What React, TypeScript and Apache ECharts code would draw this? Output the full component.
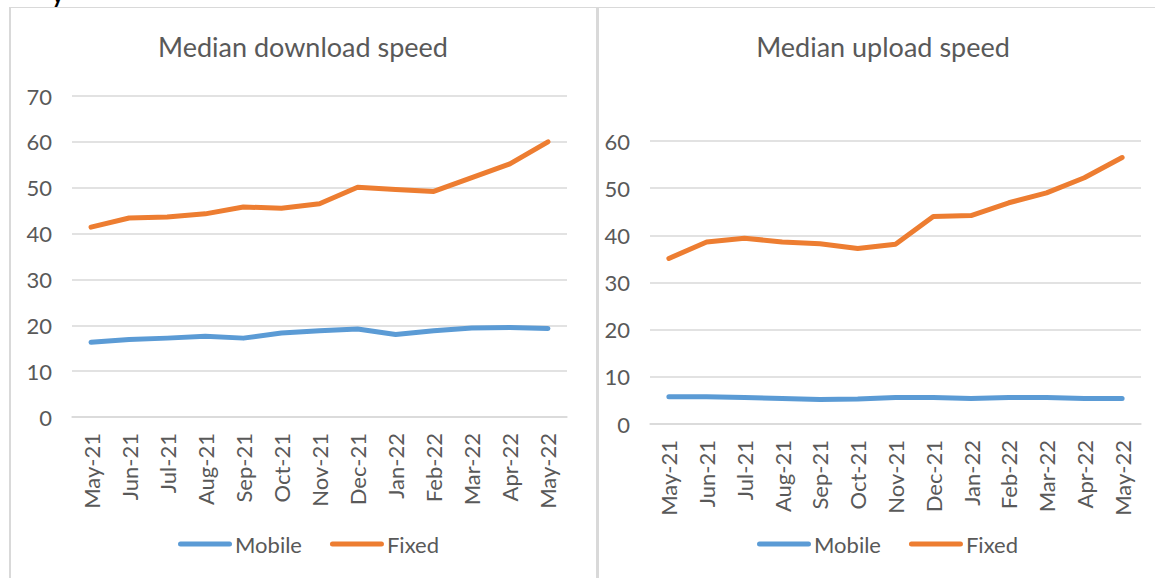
import React, { useEffect, useRef } from "react";
import * as echarts from "echarts";

const categories = ["May-21", "Jun-21", "Jul-21", "Aug-21", "Sep-21", "Oct-21", "Nov-21", "Dec-21", "Jan-22", "Feb-22", "Mar-22", "Apr-22", "May-22"];
const downloadMobile = [16.3, 16.9, 17.2, 17.6, 17.2, 18.3, 18.8, 19.2, 18.0, 18.8, 19.4, 19.5, 19.3];
const downloadFixed = [41.4, 43.4, 43.6, 44.3, 45.8, 45.5, 46.5, 50.1, 49.6, 49.2, 52.2, 55.2, 60.0];
const uploadMobile = [5.8, 5.8, 5.6, 5.4, 5.2, 5.3, 5.6, 5.6, 5.4, 5.6, 5.6, 5.4, 5.4];
const uploadFixed = [35.1, 38.6, 39.4, 38.6, 38.2, 37.2, 38.1, 44.0, 44.2, 46.9, 49.0, 52.2, 56.5];
const seriesNames = ["Mobile", "Fixed"];
const titles = ["Median download speed", "Median upload speed"];
const downloadMax = 70;
const uploadMax = 60;
const tickStep = 10;

const FONT = "Lato";
const TEXT = "#595959";
const GRID = "#d9d9d9";
const BLUE = "#5B9BD5";
const ORANGE = "#ED7D31";
const LEGEND_ICON = "path://M2.5,0 H51.5 A2.5,2.5 0 0 1 51.5,5 H2.5 A2.5,2.5 0 0 1 2.5,0 Z";

export default function App() {
  const ref = useRef<HTMLDivElement>(null);
  useEffect(() => {
    if (!ref.current) return;
    const chart = echarts.init(ref.current, null, { renderer: "svg" });
    const xAxisBase = (gridIndex: number) => ({
      type: "category" as const,
      gridIndex,
      data: categories,
      boundaryGap: true,
      axisLine: { show: true, lineStyle: { color: GRID, width: 1.5 } },
      axisTick: { show: false },
      axisLabel: { rotate: 90, margin: 16, fontSize: 22, color: TEXT, fontFamily: FONT, interval: 0 },
    });
    const yAxisBase = (gridIndex: number, max: number) => ({
      type: "value" as const,
      gridIndex,
      min: 0,
      max,
      interval: tickStep,
      axisLine: { show: false },
      axisTick: { show: false },
      splitLine: { lineStyle: { color: GRID, width: 1.5 } },
      axisLabel: { margin: 20, fontSize: 22, color: TEXT, fontFamily: FONT },
    });
    const lineSeries = (name: string, data: number[], color: string, idx: number) => ({
      type: "line" as const,
      name,
      data,
      xAxisIndex: idx,
      yAxisIndex: idx,
      symbol: "none",
      color,
      lineStyle: { color, width: 5, cap: "round", join: "round" },
    });
    const legendBase = (left: number) => ({
      data: seriesNames.map((n) => ({ name: n, icon: LEGEND_ICON })),
      left,
      top: 533,
      itemWidth: 54,
      itemHeight: 5,
      itemGap: 28,
      padding: 0,
      textStyle: { fontSize: 22, color: TEXT, fontFamily: FONT, padding: [0, 0, 0, -2] },
    });
    chart.setOption({
      animation: false,
      backgroundColor: "#ffffff",
      grid: [
        { left: 72, top: 96, width: 495, height: 321 },
        { left: 650, top: 141, width: 491, height: 283 },
      ],
      xAxis: [xAxisBase(0), xAxisBase(1)],
      yAxis: [yAxisBase(0, downloadMax), yAxisBase(1, uploadMax)],
      legend: [legendBase(178), legendBase(757)],
      series: [
        lineSeries(seriesNames[0], downloadMobile, BLUE, 0),
        lineSeries(seriesNames[1], downloadFixed, ORANGE, 0),
        lineSeries(seriesNames[0], uploadMobile, BLUE, 1),
        lineSeries(seriesNames[1], uploadFixed, ORANGE, 1),
      ],
      graphic: [
        { type: "rect", shape: { x: 9, y: 7, width: 2, height: 580 }, style: { fill: GRID }, silent: true },
        { type: "rect", shape: { x: 9, y: 7, width: 1150, height: 1 }, style: { fill: GRID }, silent: true },
        { type: "rect", shape: { x: 596, y: 7, width: 3, height: 580 }, style: { fill: GRID }, silent: true },
        { type: "text", x: 52, y: -17, style: { text: "y", fontSize: 22, fontWeight: "bold", fill: "#000", fontFamily: FONT } },
        { type: "text", x: 303, y: 46, style: { text: titles[0], fontSize: 27, fill: TEXT, fontFamily: FONT, textAlign: "center", textVerticalAlign: "middle" } },
        { type: "text", x: 883, y: 46, style: { text: titles[1], fontSize: 27, fill: TEXT, fontFamily: FONT, textAlign: "center", textVerticalAlign: "middle" } },
      ],
    });
    return () => chart.dispose();
  }, []);
  return <div ref={ref} style={{ position: "absolute", left: 0, top: 0, width: 1155, height: 578 }} />;
}
